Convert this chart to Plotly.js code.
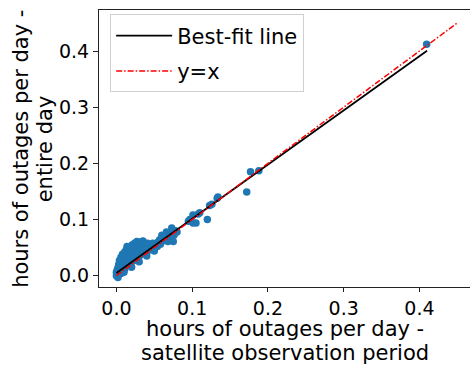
<!DOCTYPE html>
<html>
<head>
<meta charset="utf-8">
<script src="https://cdn.plot.ly/plotly-3.0.1.min.js"></script>
<style>html,body{margin:0;padding:0;background:#fff}#chart{width:470px;height:365px}</style>
</head>
<body>
<div id="chart"></div>
<script>
// Scatter: satellite observation period (x) vs entire day (y), hours of outages per day
const satX = [0.000,0.001,0.002,0.000,0.003,0.001,0.004,0.002,0.005,0.006,0.003,0.006,0.008,0.004,0.007,0.009,0.010,0.006,0.008,0.011,0.012,0.008,0.010,0.013,0.014,0.011,0.013,0.015,0.016,0.017,0.014,0.018,0.019,0.020,0.021,0.022,0.023,0.024,0.025,0.026,0.027,0.028,0.030,0.031,0.032,0.034,0.035,0.036,0.038,0.040,0.041,0.043,0.045,0.047,0.048,0.050,0.052,0.054,0.055,0.057,0.058,0.060,0.061,0.063,0.064,0.066,0.067,0.068,0.070,0.071,0.072,0.073,0.075,0.076,0.078,0.080,0.010,0.020,0.030,0.040,0.050,0.002,0.095,0.097,0.101,0.101,0.105,0.108,0.110,0.120,0.123,0.126,0.133,0.134,0.172,0.177,0.188,0.4095];
const dayY = [0.000,0.003,0.001,0.006,0.005,0.010,0.008,0.014,0.012,0.004,0.020,0.018,0.010,0.027,0.025,0.016,0.022,0.033,0.030,0.012,0.028,0.038,0.035,0.020,0.032,0.042,0.046,0.040,0.024,0.036,0.052,0.048,0.030,0.042,0.055,0.026,0.036,0.058,0.048,0.032,0.061,0.042,0.052,0.036,0.060,0.045,0.062,0.040,0.055,0.042,0.058,0.048,0.046,0.052,0.058,0.050,0.054,0.052,0.060,0.064,0.056,0.072,0.062,0.068,0.070,0.078,0.064,0.061,0.073,0.066,0.076,0.085,0.061,0.072,0.080,0.078,0.006,0.015,0.025,0.035,0.044,-0.003,0.097,0.100,0.094,0.108,0.094,0.110,0.112,0.100,0.125,0.127,0.138,0.140,0.149,0.185,0.187,0.412];
// Best-fit line endpoints
const fitX = [0.0, 0.41];
const fitY = [0.005, 0.4005];
// y = x reference line
const idX = [0.0, 0.45];
const idY = [0.0, 0.45];
const xTicks = [0.0, 0.1, 0.2, 0.3, 0.4];
const yTicks = [0.0, 0.1, 0.2, 0.3, 0.4];
const tickText = ['0.0','0.1','0.2','0.3','0.4'];
// Axis title lines
const xTitleLines = ['hours of outages per day -', 'satellite observation period'];
const yTitleLines = ['hours of outages per day -', 'entire day'];

const font = {family: 'DejaVu Sans', size: 21, color: '#000'};
const tickFont = {family: 'DejaVu Sans', size: 19, color: '#000'};

const traces = [
  {x: satX, y: dayY, type: 'scatter', mode: 'markers', showlegend: false,
   marker: {color: '#1f77b4', size: 7.5, line: {width: 0}}, hoverinfo: 'skip'},
  {x: fitX, y: fitY, type: 'scatter', mode: 'lines', name: 'Best-fit line', legendgroup: 'a',
   line: {color: '#000', width: 1.8}},
  {x: idX, y: idY, type: 'scatter', mode: 'lines', name: 'y=x', legendgroup: 'b',
   line: {color: '#ff0000', width: 1.5, dash: '6px,2px,1.5px,2px'}}
];

// plot area in pixels: left 99, right 470, top 10, bottom 287.3
const L = 99, W = 371, T = 10, H = 277.3;
const px = v => (v - L) / W;
const py = v => (T + H - v) / H;

const annotations = [
  {text: xTitleLines[0], xref: 'paper', yref: 'paper', x: px(284.5), y: py(329.5), xanchor: 'center', yanchor: 'middle', showarrow: false, font: font},
  {text: xTitleLines[1], xref: 'paper', yref: 'paper', x: px(284.5), y: py(353), xanchor: 'center', yanchor: 'middle', showarrow: false, font: font},
  {text: yTitleLines[0], xref: 'paper', yref: 'paper', x: px(21), y: py(149), xanchor: 'center', yanchor: 'middle', textangle: -90, showarrow: false, font: font},
  {text: yTitleLines[1], xref: 'paper', yref: 'paper', x: px(44.5), y: py(149), xanchor: 'center', yanchor: 'middle', textangle: -90, showarrow: false, font: font}
];

const layout = {
  width: 470, height: 365,
  margin: {l: 99, r: 0, t: 10, b: 78, pad: 0},
  paper_bgcolor: '#fff', plot_bgcolor: '#fff',
  font: font,
  showlegend: true,
  legend: {x: 0.03, y: 0.984, xanchor: 'left', yanchor: 'top',
           bordercolor: '#d0d0d0', borderwidth: 1, bgcolor: 'rgba(255,255,255,0.8)',
           font: font, tracegroupgap: 5, itemwidth: 56},
  annotations: annotations,
  xaxis: {range: [-0.023, 0.4667], tickvals: xTicks, ticktext: tickText,
          showgrid: false, zeroline: false, showline: true, mirror: true,
          linecolor: '#222', linewidth: 1, ticks: 'outside', ticklen: 4, tickcolor: '#222',
          tickfont: tickFont},
  yaxis: {range: [-0.0201, 0.473], tickvals: yTicks, ticktext: tickText,
          showgrid: false, zeroline: false, showline: true, mirror: false,
          linecolor: '#222', linewidth: 1, ticks: 'outside', ticklen: 5, tickcolor: '#222',
          tickfont: tickFont}
};

Plotly.newPlot('chart', traces, layout, {staticPlot: true, displayModeBar: false});
</script>
</body>
</html>
